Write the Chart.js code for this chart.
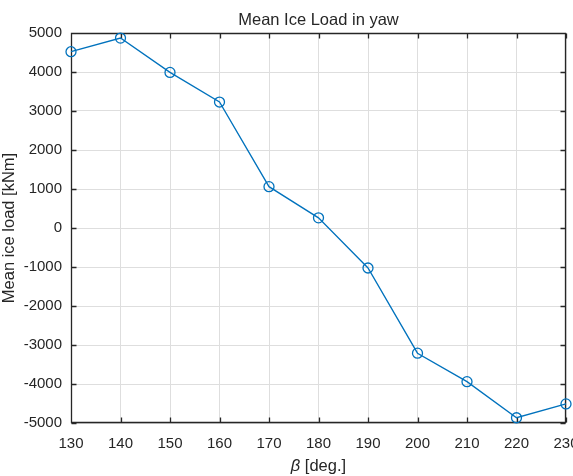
<!DOCTYPE html>
<html>
<head>
<meta charset="utf-8">
<script src="https://cdn.jsdelivr.net/npm/chart.js@4/dist/chart.umd.min.js"></script>
<style>
  html, body { margin: 0; padding: 0; background: #ffffff; }
  #wrap { width: 573px; height: 476px; position: relative; }
</style>
</head>
<body>
<div id="wrap"><canvas id="c" width="573" height="476"></canvas></div>
<script>
// ---- data ----
const betaDeg = [130, 140, 150, 160, 170, 180, 190, 200, 210, 220, 230];
const meanIceLoad = [4520, 4870, 3990, 3230, 1060, 260, -1025, -3210, -3940, -4865, -4510];
const xTicks = [130, 140, 150, 160, 170, 180, 190, 200, 210, 220, 230];
const yTicks = [-5000, -4000, -3000, -2000, -1000, 0, 1000, 2000, 3000, 4000, 5000];
const chartTitle = 'Mean Ice Load in yaw';
const yTitle = 'Mean ice load [kNm]';
const xTitleSymbol = 'β';
const xTitleUnit = ' [deg.]';

const FONT = '"Liberation Sans", Arial, Helvetica, sans-serif';
const AXIS_COLOR = '#262626';
const LINE_COLOR = '#0072BD';

const points = betaDeg.map((b, i) => ({ x: b, y: meanIceLoad[i] }));

const framePlugin = {
  id: 'frame',
  beforeDatasetsDraw(chart) {
    const { ctx, chartArea: a, scales } = chart;
    ctx.save();
    ctx.strokeStyle = AXIS_COLOR;
    ctx.lineWidth = 1.3;
    ctx.beginPath();
    const L = Math.round(a.left) + 0.5, R = Math.round(a.right) - 0.5;
    const T = Math.round(a.top) + 0.5, B = Math.round(a.bottom) - 0.5;
    ctx.rect(L, T, R - L, B - T);
    const tl = 5;
    xTicks.forEach(v => {
      const px = Math.round(scales.x.getPixelForValue(v)) + 0.5;
      ctx.moveTo(px, B); ctx.lineTo(px, B - tl);
      ctx.moveTo(px, T); ctx.lineTo(px, T + tl);
    });
    yTicks.forEach(v => {
      const py = Math.round(scales.y.getPixelForValue(v)) + 0.5;
      ctx.moveTo(L, py); ctx.lineTo(L + tl, py);
      ctx.moveTo(R, py); ctx.lineTo(R - tl, py);
    });
    ctx.stroke();
    ctx.restore();
  },
  afterDraw(chart) {
    const { ctx, chartArea: a } = chart;
    const cx = (a.left + a.right) / 2;
    ctx.save();
    ctx.fillStyle = AXIS_COLOR;
    // title
    ctx.font = '16.5px ' + FONT;
    ctx.textAlign = 'center';
    ctx.textBaseline = 'alphabetic';
    ctx.fillText(chartTitle, cx, 25);
    // x title
    ctx.font = 'italic 16.5px ' + FONT;
    const w1 = ctx.measureText(xTitleSymbol).width;
    ctx.font = '16.5px ' + FONT;
    const w2 = ctx.measureText(xTitleUnit).width;
    let sx = cx - (w1 + w2) / 2;
    ctx.textAlign = 'left';
    ctx.font = 'italic 16.5px ' + FONT;
    ctx.fillText(xTitleSymbol, sx, 471);
    ctx.font = '16.5px ' + FONT;
    ctx.fillText(xTitleUnit, sx + w1, 471);
    // y title
    ctx.translate(9, (a.top + a.bottom) / 2);
    ctx.rotate(-Math.PI / 2);
    ctx.textAlign = 'center';
    ctx.textBaseline = 'middle';
    ctx.fillText(yTitle, 0, 0);
    ctx.restore();
  }
};

new Chart(document.getElementById('c'), {
  type: 'line',
  data: {
    datasets: [{
      data: points,
      borderColor: LINE_COLOR,
      borderWidth: 1.3,
      backgroundColor: 'rgba(0,0,0,0)',
      pointStyle: 'circle',
      pointRadius: 5,
      pointBorderWidth: 1.3,
      pointBorderColor: LINE_COLOR,
      pointBackgroundColor: 'rgba(0,0,0,0)',
      tension: 0,
      clip: false
    }]
  },
  options: {
    responsive: false,
    animation: false,
    devicePixelRatio: 1,
    layout: { padding: { top: 33, right: 7, left: 0, bottom: 0 } },
    plugins: { legend: { display: false }, tooltip: { enabled: false }, title: { display: false } },
    scales: {
      x: {
        type: 'linear',
        min: 130, max: 230,
        afterBuildTicks(s) { s.ticks = xTicks.map(v => ({ value: v })); },
        afterFit(s) { s.height = 53; s.paddingLeft = 0; s.paddingRight = 0; },
        ticks: { color: AXIS_COLOR, font: { family: FONT, size: 15 }, padding: 12, maxRotation: 0, autoSkip: false },
        grid: { color: '#dedede', lineWidth: 1, drawTicks: false },
        border: { display: false }
      },
      y: {
        type: 'linear',
        min: -5000, max: 5000,
        afterBuildTicks(s) { s.ticks = yTicks.map(v => ({ value: v })); },
        afterFit(s) { s.width = 71; s.paddingTop = 0; s.paddingBottom = 0; },
        ticks: { color: AXIS_COLOR, font: { family: FONT, size: 15 }, padding: 9, autoSkip: false,
                 callback: v => String(v) },
        grid: { color: '#dedede', lineWidth: 1, drawTicks: false },
        border: { display: false }
      }
    }
  },
  plugins: [framePlugin]
});
</script>
</body>
</html>
